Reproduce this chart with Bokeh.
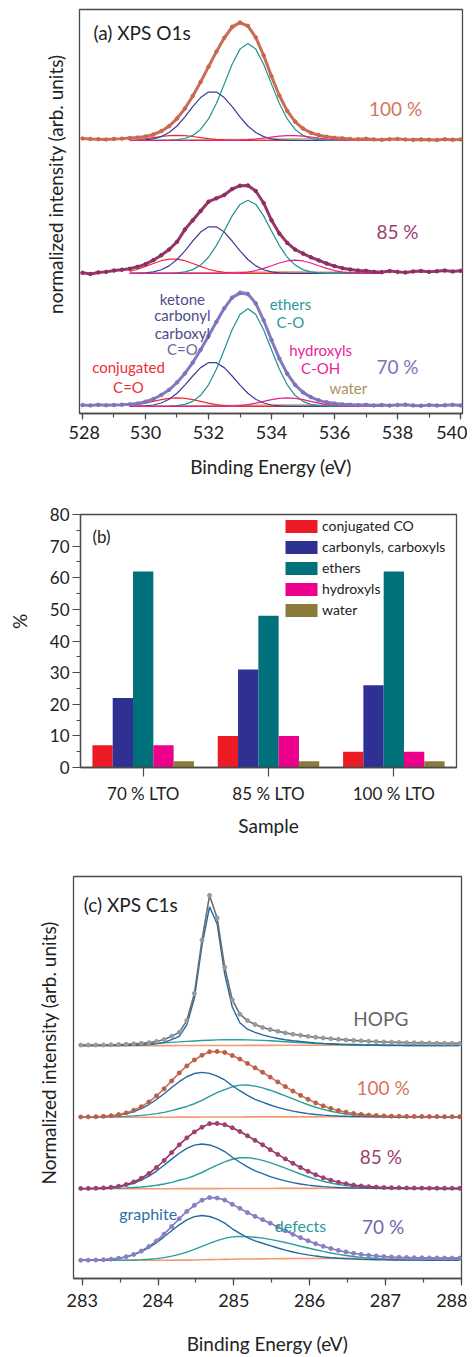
import numpy as np
from bokeh.plotting import figure
from bokeh.layouts import column, row
from bokeh.models import Label, Range1d, SingleIntervalTicker, FixedTicker, Legend, LegendItem
from bokeh.embed import file_html
from bokeh.resources import INLINE

FONT = "Lato"

# ------------------------------------------------------------------ (a) XPS O1s
# measured spectra, 528.0 ... 540.0 eV every 0.25 eV
o1s_energy = [528.0 + 0.25 * j for j in range(49)]
o1s_100_data = [0.015, 0.012, 0.010, 0.008, 0.012, 0.014, 0.018, 0.022, 0.030, 0.045,
                0.070, 0.108, 0.165, 0.240, 0.335, 0.440, 0.555, 0.668, 0.772, 0.855,
                0.887, 0.862, 0.775, 0.640, 0.482, 0.338, 0.222, 0.142, 0.090, 0.058,
                0.040, 0.028, 0.020, 0.016, 0.012, 0.010, 0.013, 0.008, 0.006, 0.009,
                0.012, 0.007, 0.005, 0.008, 0.006, 0.004, 0.009, 0.006, 0.008]
o1s_85_data = [0.005, -0.004, 0.008, 0.012, 0.022, 0.028, 0.035, 0.050, 0.070, 0.100,
               0.137, 0.180, 0.238, 0.330, 0.400, 0.470, 0.540, 0.565, 0.590, 0.635,
               0.660, 0.662, 0.620, 0.530, 0.400, 0.300, 0.230, 0.180, 0.150, 0.122,
               0.098, 0.075, 0.055, 0.040, 0.030, 0.022, 0.020, 0.012, 0.010, 0.018,
               0.012, 0.008, 0.015, 0.019, 0.012, 0.017, 0.022, 0.015, 0.020]
o1s_70_data = [0.010, 0.008, 0.012, 0.009, 0.011, 0.013, 0.016, 0.022, 0.036, 0.056,
               0.086, 0.125, 0.180, 0.248, 0.330, 0.426, 0.530, 0.636, 0.738, 0.818,
               0.852, 0.845, 0.775, 0.648, 0.500, 0.360, 0.246, 0.162, 0.106, 0.070,
               0.046, 0.031, 0.022, 0.016, 0.013, 0.010, 0.012, 0.008, 0.010, 0.007,
               0.011, 0.013, 0.008, 0.006, 0.010, 0.007, 0.009, 0.012, 0.008]

# fitted components, 529.5 ... 537.5 eV every 0.25 eV
o1s_fit_energy = [529.5 + 0.25 * k for k in range(33)]
Z = 0.0
o1s_100_conj = [0.004, 0.008, 0.014, 0.022, 0.030, 0.036, 0.038, 0.036, 0.030, 0.022, 0.014,
                0.008, 0.004, 0.002, 0.001] + [Z] * 18
o1s_100_carb = [0.001, 0.002, 0.005, 0.012, 0.029, 0.060, 0.109, 0.177, 0.254, 0.323, 0.364,
                0.364, 0.323, 0.254, 0.177, 0.109, 0.060, 0.029, 0.012, 0.005, 0.002, 0.001,
                0.000] + [Z] * 10
o1s_100_ether = [0, 0, 0, 0, 0.001, 0.002, 0.006, 0.015, 0.038, 0.083, 0.162, 0.278, 0.424,
                 0.574, 0.687, 0.730, 0.687, 0.574, 0.424, 0.278, 0.162, 0.083, 0.038, 0.015,
                 0.006, 0.002, 0.001, 0, 0, 0, 0, 0, 0]
o1s_100_hydr = [Z] * 13 + [0.001, 0.003, 0.006, 0.011, 0.018, 0.026, 0.033, 0.037, 0.037,
                           0.033, 0.026, 0.018, 0.011, 0.006, 0.003, 0.001] + [Z] * 4
o1s_85_conj = [0.015, 0.032, 0.053, 0.075, 0.096, 0.108, 0.108, 0.096, 0.075, 0.053, 0.032,
               0.018, 0.009, 0.004, 0.001] + [Z] * 18
o1s_85_carb = [0.001, 0.002, 0.005, 0.012, 0.028, 0.057, 0.105, 0.170, 0.244, 0.311, 0.351,
               0.351, 0.311, 0.244, 0.170, 0.105, 0.057, 0.028, 0.012, 0.005, 0.002, 0.001,
               0.000] + [Z] * 10
o1s_85_ether = [0, 0, 0, 0, 0, 0.001, 0.004, 0.012, 0.029, 0.063, 0.122, 0.210, 0.320, 0.433,
                0.519, 0.551, 0.519, 0.433, 0.320, 0.210, 0.122, 0.063, 0.029, 0.012, 0.004,
                0.001, 0, 0, 0, 0, 0, 0, 0]
o1s_85_hydr = [Z] * 12 + [0.001, 0.002, 0.005, 0.011, 0.022, 0.038, 0.058, 0.079, 0.094,
                          0.100, 0.094, 0.079, 0.058, 0.038, 0.022, 0.011, 0.005, 0.002,
                          0.001] + [Z] * 2
o1s_70_conj = [0.007, 0.014, 0.025, 0.038, 0.051, 0.061, 0.065, 0.061, 0.051, 0.038, 0.025,
               0.014, 0.007, 0.003, 0.001] + [Z] * 18
o1s_70_carb = [0.001, 0.001, 0.004, 0.011, 0.026, 0.054, 0.099, 0.160, 0.229, 0.292, 0.329,
               0.329, 0.292, 0.229, 0.160, 0.099, 0.054, 0.026, 0.011, 0.004, 0.001, 0.001,
               0.000] + [Z] * 10
o1s_70_ether = [0, 0, 0, 0, 0.001, 0.002, 0.006, 0.016, 0.038, 0.084, 0.163, 0.280, 0.427,
                0.577, 0.692, 0.735, 0.692, 0.577, 0.427, 0.280, 0.163, 0.084, 0.038, 0.016,
                0.006, 0.002, 0.001, 0, 0, 0, 0, 0, 0]
o1s_70_hydr = [Z] * 12 + [0.001, 0.003, 0.007, 0.014, 0.025, 0.038, 0.051, 0.061, 0.065,
                          0.061, 0.051, 0.038, 0.025, 0.014, 0.007, 0.003, 0.001] + [Z] * 4
o1s_water = [0.002, 0.002, 0.003, 0.003, 0.004, 0.004, 0.005, 0.005, 0.006, 0.006, 0.007,
             0.007, 0.008, 0.008, 0.009, 0.009, 0.010, 0.010, 0.010, 0.011, 0.011, 0.011,
             0.011, 0.011, 0.010, 0.010, 0.009, 0.009, 0.008, 0.007, 0.006, 0.005, 0.004]

# ------------------------------------------------------------------ (b) bars
samples = ["70 % LTO", "85 % LTO", "100 % LTO"]
bar_series = ["conjugated CO", "carbonyls, carboxyls", "ethers", "hydroxyls", "water"]
pct_conj = [7, 10, 5]
pct_carb = [22, 31, 26]
pct_ether = [62, 48, 62]
pct_hydr = [7, 10, 5]
pct_water = [2, 2, 2]

# ------------------------------------------------------------------ (c) XPS C1s
c1s_energy = [282.98 + 0.1 * i for i in range(51)]
hopg_data = [0.008, 0.008, 0.009, 0.010, 0.012, 0.015, 0.019, 0.025, 0.032, 0.042,
             0.058, 0.085, 0.132, 0.185, 0.350, 0.730, 1.475, 2.100, 1.785, 1.095,
             0.640, 0.440, 0.350, 0.295, 0.255, 0.225, 0.200, 0.178, 0.160, 0.145,
             0.130, 0.118, 0.107, 0.097, 0.088, 0.080, 0.073, 0.067, 0.061, 0.056,
             0.052, 0.048, 0.045, 0.042, 0.040, 0.038, 0.036, 0.034, 0.033, 0.032, 0.031]
hopg_graphite = [0.000, 0.000, 0.001, 0.001, 0.002, 0.003, 0.004, 0.006, 0.009, 0.014,
                 0.024, 0.045, 0.085, 0.130, 0.290, 0.660, 1.400, 1.940, 1.700, 1.000,
                 0.540, 0.320, 0.230, 0.185, 0.150, 0.122, 0.100, 0.083, 0.069, 0.057,
                 0.047, 0.039, 0.032, 0.027, 0.022, 0.018, 0.015, 0.012, 0.010, 0.008,
                 0.006, 0.005, 0.004, 0.003, 0.003, 0.002, 0.002, 0.001, 0.001, 0.001, 0.000]
hopg_defects = [0.002, 0.003, 0.004, 0.006, 0.008, 0.011, 0.014, 0.018, 0.022, 0.027,
                0.033, 0.039, 0.046, 0.052, 0.059, 0.065, 0.071, 0.076, 0.080, 0.082,
                0.083, 0.083, 0.081, 0.077, 0.073, 0.068, 0.062, 0.055, 0.048, 0.042,
                0.035, 0.029, 0.024, 0.019, 0.015, 0.012, 0.009, 0.007, 0.005, 0.004,
                0.003, 0.002, 0.002, 0.001, 0.001, 0.000, 0.000, 0.000, 0.000, 0.000, 0.000]
c1s_bg_small = [0.000, 0.000, 0.000, 0.000, 0.000, 0.000, 0.000, 0.000, 0.000, 0.000,
                0.000, 0.000, 0.000, 0.001, 0.001, 0.001, 0.002, 0.002, 0.002, 0.003,
                0.003, 0.003, 0.004, 0.004, 0.004, 0.004, 0.005, 0.005, 0.005, 0.005,
                0.005, 0.005, 0.006, 0.006, 0.006, 0.006, 0.006, 0.006, 0.006, 0.006,
                0.006, 0.006, 0.006, 0.006, 0.006, 0.006, 0.006, 0.006, 0.006, 0.006, 0.006]
c100_data = [0.004, 0.005, 0.007, 0.012, 0.021, 0.036, 0.060, 0.096, 0.147, 0.214,
             0.298, 0.397, 0.507, 0.619, 0.716, 0.800, 0.866, 0.915, 0.918, 0.905,
             0.862, 0.812, 0.752, 0.690, 0.628, 0.560, 0.493, 0.428, 0.365, 0.305,
             0.250, 0.200, 0.158, 0.122, 0.093, 0.070, 0.052, 0.039, 0.030, 0.023,
             0.018, 0.015, 0.013, 0.011, 0.010, 0.009, 0.008, 0.008, 0.007, 0.007, 0.006]
c100_graphite = [0.001, 0.002, 0.004, 0.008, 0.015, 0.027, 0.047, 0.077, 0.120, 0.177,
                 0.247, 0.328, 0.414, 0.496, 0.565, 0.610, 0.626, 0.612, 0.575, 0.520,
                 0.440, 0.370, 0.305, 0.250, 0.210, 0.170, 0.138, 0.110, 0.085, 0.066,
                 0.050, 0.038, 0.029, 0.022, 0.017, 0.013, 0.010, 0.008, 0.006, 0.005,
                 0.004, 0.003, 0.003, 0.002, 0.002, 0.001, 0.001, 0.001, 0.000, 0.000, 0.000]
c100_defects = [0.001, 0.001, 0.002, 0.003, 0.005, 0.008, 0.012, 0.018, 0.026, 0.036,
                0.050, 0.068, 0.092, 0.122, 0.150, 0.188, 0.235, 0.290, 0.342, 0.385,
                0.425, 0.448, 0.450, 0.434, 0.409, 0.377, 0.338, 0.297, 0.255, 0.213,
                0.174, 0.139, 0.109, 0.083, 0.062, 0.045, 0.032, 0.022, 0.015, 0.010,
                0.006, 0.004, 0.003, 0.002, 0.001, 0.001, 0.000, 0.000, 0.000, 0.000, 0.000]
c85_data = [0.004, 0.005, 0.007, 0.012, 0.021, 0.035, 0.059, 0.095, 0.146, 0.213,
            0.297, 0.395, 0.505, 0.614, 0.711, 0.794, 0.860, 0.910, 0.912, 0.895,
            0.852, 0.800, 0.740, 0.676, 0.614, 0.546, 0.480, 0.417, 0.355, 0.297,
            0.244, 0.195, 0.154, 0.119, 0.091, 0.069, 0.051, 0.038, 0.029, 0.023,
            0.018, 0.015, 0.013, 0.011, 0.010, 0.009, 0.008, 0.008, 0.007, 0.007, 0.006]
c85_graphite = [0.001, 0.002, 0.004, 0.008, 0.015, 0.027, 0.047, 0.077, 0.120, 0.177,
                0.247, 0.328, 0.414, 0.496, 0.565, 0.610, 0.626, 0.612, 0.575, 0.520,
                0.440, 0.370, 0.305, 0.250, 0.210, 0.170, 0.138, 0.110, 0.085, 0.066,
                0.050, 0.038, 0.029, 0.022, 0.017, 0.013, 0.010, 0.008, 0.006, 0.005,
                0.004, 0.003, 0.003, 0.002, 0.002, 0.001, 0.001, 0.001, 0.000, 0.000, 0.000]
c85_defects = [0.001, 0.001, 0.002, 0.003, 0.005, 0.008, 0.012, 0.017, 0.025, 0.035,
               0.048, 0.066, 0.089, 0.118, 0.145, 0.182, 0.227, 0.280, 0.331, 0.375,
               0.412, 0.433, 0.435, 0.420, 0.396, 0.365, 0.327, 0.287, 0.247, 0.206,
               0.168, 0.134, 0.105, 0.080, 0.060, 0.044, 0.031, 0.021, 0.015, 0.010,
               0.006, 0.004, 0.003, 0.002, 0.001, 0.001, 0.000, 0.000, 0.000, 0.000, 0.000]
c70_data = [0.001, 0.002, 0.004, 0.008, 0.016, 0.028, 0.050, 0.082, 0.129, 0.192,
            0.271, 0.366, 0.473, 0.581, 0.683, 0.768, 0.840, 0.876, 0.870, 0.842,
            0.782, 0.726, 0.667, 0.614, 0.568, 0.519, 0.466, 0.413, 0.363, 0.316,
            0.272, 0.232, 0.196, 0.165, 0.138, 0.117, 0.098, 0.082, 0.070, 0.060,
            0.052, 0.046, 0.042, 0.039, 0.036, 0.035, 0.033, 0.032, 0.031, 0.030, 0.030]
c70_graphite = [0.001, 0.002, 0.004, 0.008, 0.015, 0.027, 0.047, 0.077, 0.120, 0.177,
                0.247, 0.328, 0.414, 0.496, 0.565, 0.610, 0.626, 0.612, 0.575, 0.520,
                0.440, 0.375, 0.318, 0.272, 0.238, 0.205, 0.172, 0.142, 0.116, 0.094,
                0.075, 0.059, 0.046, 0.036, 0.028, 0.022, 0.017, 0.013, 0.010, 0.008,
                0.006, 0.005, 0.004, 0.003, 0.002, 0.002, 0.001, 0.001, 0.001, 0.000, 0.000]
c70_defects = [0.000, 0.000, 0.000, 0.000, 0.001, 0.001, 0.003, 0.005, 0.009, 0.015,
               0.024, 0.038, 0.058, 0.083, 0.115, 0.153, 0.194, 0.236, 0.275, 0.306,
               0.327, 0.334, 0.331, 0.323, 0.310, 0.293, 0.272, 0.248, 0.223, 0.197,
               0.172, 0.147, 0.124, 0.102, 0.083, 0.067, 0.053, 0.041, 0.031, 0.023,
               0.017, 0.012, 0.009, 0.006, 0.004, 0.003, 0.002, 0.001, 0.001, 0.000, 0.000]
c70_bg = [0.0] * 12 + [0.001, 0.002, 0.003, 0.005, 0.007, 0.009, 0.011, 0.013, 0.015, 0.017,
                       0.018, 0.019, 0.020, 0.021, 0.022, 0.023, 0.024, 0.025, 0.025, 0.026,
                       0.026, 0.027, 0.027, 0.028, 0.028, 0.028, 0.029, 0.029, 0.029, 0.029,
                       0.029, 0.030, 0.030, 0.030, 0.030, 0.030, 0.030, 0.030, 0.030]

# ------------------------------------------------------------------ colours
C_RED, C_NAVY, C_TEAL, C_MAG, C_OLIVE = "#ee2a30", "#3d3c9a", "#1f9292", "#ec1a8f", "#b4a46c"
C_S100, C_S85, C_S70 = "#c9674e", "#8e2d62", "#7e74bc"
TXT = "#222222"
AX = "#4a4a4a"


def style_common(p):
    p.grid.visible = False
    p.outline_line_color = AX
    p.outline_line_width = 1.3
    p.background_fill_color = "white"
    p.border_fill_color = "white"
    for ax in p.axis:
        ax.axis_label_text_font = FONT
        ax.axis_label_text_font_style = "normal"
        ax.axis_label_text_font_size = "19px"
        ax.axis_label_text_color = TXT
        ax.major_label_text_font = FONT
        ax.major_label_text_font_size = "18px"
        ax.major_label_text_color = TXT
        ax.axis_line_color = AX
        ax.axis_line_width = 1.3
        ax.major_tick_line_color = AX
        ax.minor_tick_line_color = AX
        ax.major_tick_line_width = 1.2
        ax.minor_tick_line_width = 1.2
        ax.major_tick_in = 0
        ax.minor_tick_in = 0


def add_label(p, x, y, text, color, size="18px", align="center", angle=0.0):
    p.add_layout(Label(x=x, y=y, text=text, text_color=color, text_font=FONT,
                       text_font_size=size, text_align=align, text_baseline="middle",
                       angle=angle))


def title_strip(width, height, text, cx, cy):
    """narrow blank figure that carries a vertical axis title (pixel coordinates)"""
    s = figure(width=width, height=height, x_range=Range1d(0, width), y_range=Range1d(0, height),
               output_backend="svg", toolbar_location=None, tools="",
               min_border=0, min_border_left=0, min_border_right=0,
               min_border_top=0, min_border_bottom=0)
    s.axis.visible = False
    s.grid.visible = False
    s.outline_line_color = None
    s.background_fill_color = "white"
    s.border_fill_color = "white"
    add_label(s, cx, cy, text, TXT, "19px", "center", np.pi / 2)
    return s


# ================================================================== panel (a)
pa = figure(width=399, height=488, x_range=Range1d(527.905, 540.063),
            y_range=Range1d(-0.053, 2.985), output_backend="svg", toolbar_location=None,
            tools="", min_border_left=11, min_border_right=5, min_border_top=9,
            min_border_bottom=75)
style_common(pa)
pa.yaxis.visible = False
pa.xaxis.ticker = SingleIntervalTicker(interval=2, num_minor_ticks=2)
pa.xaxis.major_tick_out = 6
pa.xaxis.minor_tick_out = 4
pa.xaxis.major_label_standoff = 6
pa.xaxis.axis_label = "Binding Energy (eV)"
pa.xaxis.axis_label_standoff = 13

fitx = np.array(o1s_fit_energy)
spectra_a = [
    (0.0, o1s_70_data, [o1s_70_conj, o1s_70_carb, o1s_70_ether, o1s_70_hydr, o1s_water], C_S70, "#b3acdb"),
    (1.0, o1s_85_data, [o1s_85_conj, o1s_85_carb, o1s_85_ether, o1s_85_hydr, o1s_water], C_S85, None),
    (2.0, o1s_100_data, [o1s_100_conj, o1s_100_carb, o1s_100_ether, o1s_100_hydr, o1s_water], C_S100, "#e6a591"),
]
comp_cols = [C_RED, C_NAVY, C_TEAL, C_MAG, C_OLIVE]
for off, data, comps, col, envcol in spectra_a:
    arrs = [np.array(c, dtype=float) for c in comps]
    pa.line(fitx, arrs[4] + off, line_color=C_OLIVE, line_width=1.3)
    for arr, cc in zip(arrs[:4], comp_cols[:4]):
        pa.line(fitx, arr + off, line_color=cc, line_width=1.2)
    if envcol:
        env = np.sum(arrs, axis=0) + off
        pa.line(fitx, env, line_color=envcol, line_width=1.2)
    d = np.array(data) + off
    pa.line(o1s_energy, d, line_color=col, line_width=3.0, line_alpha=0.95)
    pa.scatter(o1s_energy, d, size=3.5, fill_color=col, line_color=col)

add_label(pa, 528.35, 2.812, "(a) XPS O1s", TXT, "19px", "left")
add_label(pa, 537.94, 2.24, "100 %", "#d4765e", "19px")
add_label(pa, 538.0, 1.316, "85 %", "#9c3d70", "19px")
add_label(pa, 538.0, 0.30, "70 %", C_S70, "19px")
for yy, t, c in [(0.805, "ketone", "#4d4c8c"), (0.684, "carbonyl", "#4d4c8c"),
                 (0.556, "carboxyl", "#4d4c8c"), (0.429, "C=O", "#6a6a9c")]:
    add_label(pa, 531.17, yy, t, c, "15px")
add_label(pa, 534.6, 0.767, "ethers", "#2a9a9a", "15px")
add_label(pa, 534.6, 0.632, "C-O", "#2a9a9a", "15px")
add_label(pa, 529.46, 0.293, "conjugated", "#ee3035", "15px")
add_label(pa, 529.46, 0.150, "C=O", "#ee3035", "15px")
add_label(pa, 535.56, 0.421, "hydroxyls", "#e8259a", "15px")
add_label(pa, 535.56, 0.286, "C-OH", "#e8259a", "15px")
add_label(pa, 536.44, 0.135, "water", "#a8955a", "15px")
ta = title_strip(68, 488, "normalized intensity (arb. units)", 55, 277)

# ================================================================== panel (b)
pb = figure(width=435, height=372, x_range=Range1d(0, 3), y_range=Range1d(0, 80),
            output_backend="svg", toolbar_location=None, tools="",
            min_border_left=48, min_border_right=11, min_border_top=26, min_border_bottom=93)
style_common(pb)
pb.yaxis.ticker = FixedTicker(ticks=list(range(0, 81, 10)), minor_ticks=list(range(5, 80, 10)))
pb.yaxis.major_tick_out = 8
pb.yaxis.minor_tick_out = 4
pb.yaxis.major_label_standoff = 3
pb.yaxis.major_label_text_font_size = "17px"
pb.xaxis.ticker = FixedTicker(ticks=[0.5, 1.5, 2.5])
pb.xaxis.major_label_overrides = {0.5: samples[0], 1.5: samples[1], 2.5: samples[2]}
pb.xaxis.major_tick_out = 9
pb.xaxis.major_label_standoff = 6
pb.xaxis.major_label_text_font_size = "17px"
pb.xaxis.axis_label = "Sample"
pb.xaxis.axis_label_standoff = 7

bar_vals = [pct_conj, pct_carb, pct_ether, pct_hydr, pct_water]
bar_cols = ["#ed1c24", "#2e3192", "#00707a", "#ec008c", "#8b7b3b"]
bw = 0.162
items = []
for i, (vals, col, name) in enumerate(zip(bar_vals, bar_cols, bar_series)):
    xs = [g + 0.5 + (i - 2) * bw for g in range(3)]
    r = pb.vbar(x=xs, top=vals, width=bw, bottom=0, fill_color=col, line_color=None)
    items.append(LegendItem(label=name, renderers=[r]))
leg = Legend(items=items, location=(201, 149), padding=0, margin=0, spacing=4,
             glyph_width=40, glyph_height=16, label_height=16, label_standoff=1,
             label_text_font=FONT, label_text_font_size="14px", label_text_color=TXT,
             border_line_color=None, background_fill_alpha=0)
pb.add_layout(leg)
add_label(pb, 0.096, 73.06, "(b)", TXT, "17px", "left")
tb = title_strip(32, 372, "%", 19, 215)

# ================================================================== panel (c)
pc = figure(width=405, height=497, x_range=Range1d(282.885, 288.004),
            y_range=Range1d(-0.2545, 5.364), output_backend="svg", toolbar_location=None,
            tools="", min_border_left=11, min_border_right=6, min_border_top=16,
            min_border_bottom=77)
style_common(pc)
pc.yaxis.visible = False
pc.xaxis.ticker = SingleIntervalTicker(interval=1, num_minor_ticks=2)
pc.xaxis.major_tick_out = 7
pc.xaxis.minor_tick_out = 4
pc.xaxis.major_label_standoff = 8
pc.xaxis.axis_label = "Binding Energy (eV)"
pc.xaxis.axis_label_standoff = 22

ce = np.array(c1s_energy)
spectra_c = [
    (0.0, c70_data, c70_graphite, c70_defects, c70_bg, C_S70, "#8a7fc4"),
    (1.0, c85_data, c85_graphite, c85_defects, c1s_bg_small, "#972f63", "#a04072"),
    (2.0, c100_data, c100_graphite, c100_defects, c1s_bg_small, "#cf6f55", "#b8604a"),
    (3.0, hopg_data, hopg_graphite, hopg_defects, c1s_bg_small, "#6e6e6e", "#9a9a9a"),
]
for off, data, gr, de, bg, lcol, dcol in spectra_c:
    pc.line(ce, np.array(bg) + off, line_color="#f39a70", line_width=1.6)
    pc.line(ce, np.array(de) + off, line_color="#2a9d9c", line_width=1.4)
    pc.line(ce, np.array(gr) + off, line_color="#22689f", line_width=1.4)
    pc.line(ce, np.array(data) + off, line_color=lcol, line_width=1.6)
    pc.scatter(ce, np.array(data) + off, size=4, fill_color=dcol, line_color=dcol)

add_label(pc, 283.02, 4.976, "(c) XPS C1s", TXT, "19px", "left")
add_label(pc, 286.94, 3.376, "HOPG", "#666666", "19px")
add_label(pc, 286.97, 2.416, "100 %", "#d4765e", "19px")
add_label(pc, 286.94, 1.456, "85 %", "#9c3d70", "19px")
add_label(pc, 286.97, 0.469, "70 %", "#7466b0", "19px")
add_label(pc, 283.87, 0.65, "graphite", "#2b6ea6", "16px")
add_label(pc, 285.88, 0.483, "defects", "#2a9a9a", "16px")
tc = title_strip(62, 497, "Normalized intensity (arb. units)", 48, 279)

layout = column(row(ta, pa, spacing=0), row(tb, pb, spacing=0), row(tc, pc, spacing=0),
                spacing=0)
open("out.html", "w").write(file_html(layout, INLINE))
